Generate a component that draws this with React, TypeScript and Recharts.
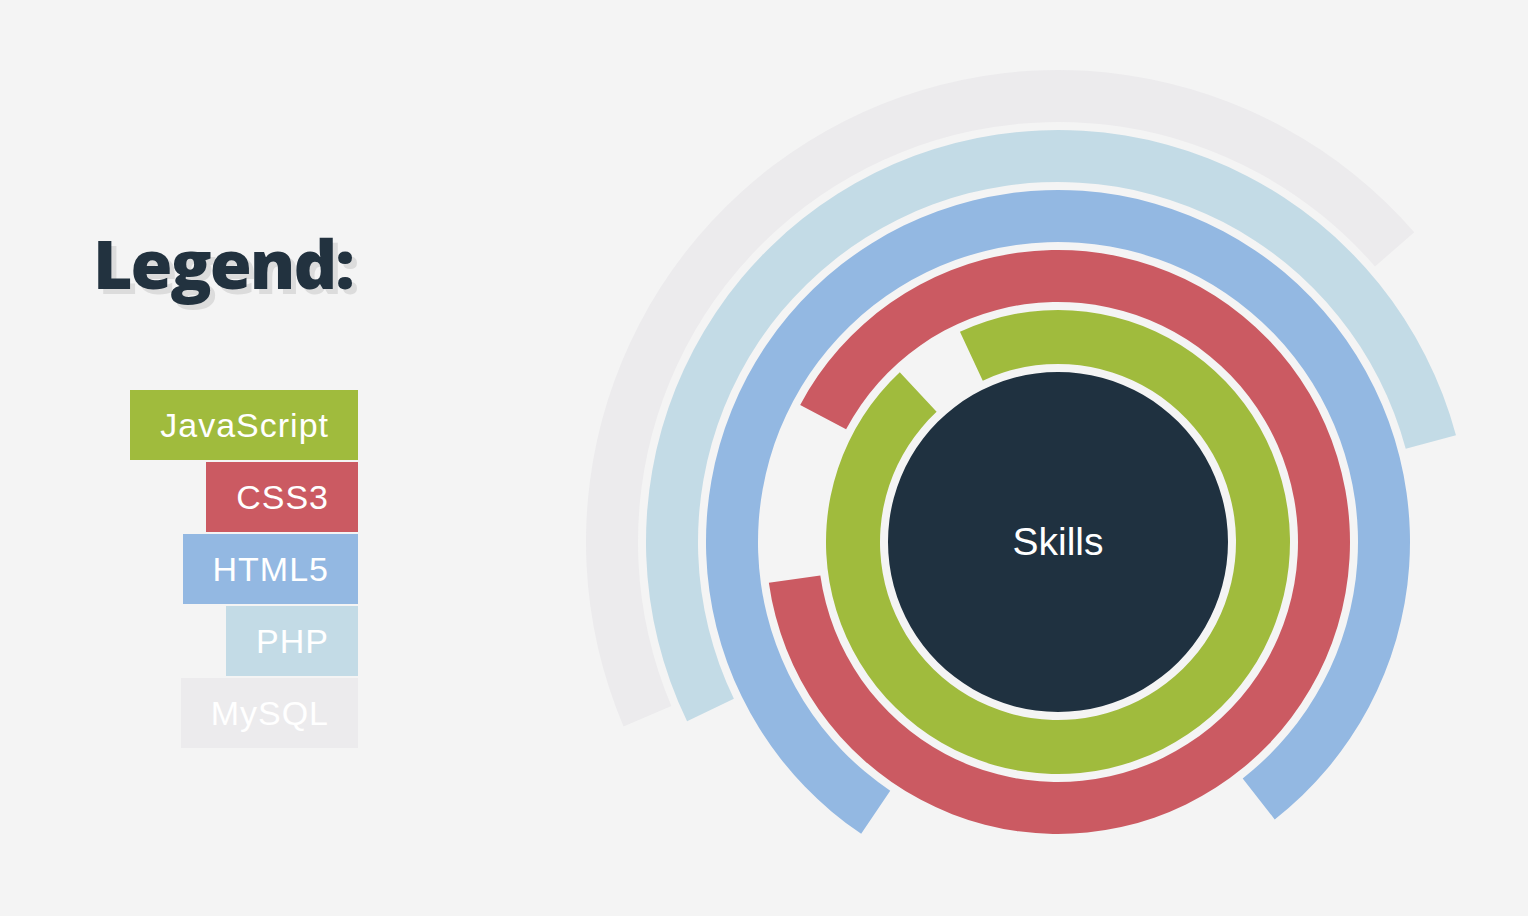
import { PieChart, Pie, Cell } from 'recharts'

const skills = ['JavaScript', 'CSS3', 'HTML5', 'PHP', 'MySQL']
const skillLevel = [95, 90, 80, 53, 45]
// angle (deg, counter-clockwise from 3 o'clock) where each arc begins
const arcStart = [133, 188, 308, 15, 41]
const skillColors = ['#a0bb3d', '#cb5a62', '#93b8e2', '#c3dbe6', '#ecebed']

const CX = 1058
const CY = 542

export default function App() {
  return (
    <div
      style={{
        position: 'absolute',
        left: 0,
        top: 0,
        width: 1528,
        height: 916,
        background: '#f4f4f4',
        overflow: 'hidden',
        fontFamily: '"Liberation Sans", Arial, sans-serif',
      }}
    >
      <PieChart
        width={1528}
        height={916}
        margin={{ top: 0, right: 0, bottom: 0, left: 0 }}
        style={{ position: 'absolute', left: 0, top: 0 }}
      >
        <Pie
          data={[{ name: 'center', value: 1 }]}
          dataKey="value"
          cx={CX}
          cy={CY}
          innerRadius={0}
          outerRadius={170}
          startAngle={0}
          endAngle={360}
          stroke="none"
          fill="#1f3140"
          isAnimationActive={false}
        />
        {skills.map((s, i) => (
          <Pie
            key={s}
            data={[
              { name: s, value: skillLevel[i] },
              { name: 'rest', value: 100 - skillLevel[i] },
            ]}
            dataKey="value"
            cx={CX}
            cy={CY}
            innerRadius={i === 0 ? 178 : 180 + i * 60}
            outerRadius={232 + i * 60}
            startAngle={arcStart[i]}
            endAngle={arcStart[i] + 360}
            paddingAngle={0}
            stroke="none"
            isAnimationActive={false}
          >
            <Cell fill={skillColors[i]} />
            <Cell fill="transparent" />
          </Pie>
        ))}
      </PieChart>

      <div
        style={{
          position: 'absolute',
          left: CX - 100,
          top: CY - 30,
          width: 200,
          height: 60,
          lineHeight: '60px',
          textAlign: 'center',
          color: '#fff',
          fontSize: 39,
        }}
      >
        Skills
      </div>

      <div
        style={{
          position: 'absolute',
          left: 93,
          top: 216,
          fontFamily: '"Open Sans", sans-serif',
          fontWeight: 800,
          fontSize: 68,
          color: '#22323f',
          textShadow: '5px 5px 0 #dcdcdc',
          letterSpacing: -2,
        }}
      >
        Legend:
      </div>

      <div
        style={{
          position: 'absolute',
          right: 1528 - 358,
          top: 390,
          display: 'flex',
          flexDirection: 'column',
          alignItems: 'flex-end',
          gap: 2,
        }}
      >
        {skills.map((s, i) => (
          <div
            key={s}
            style={{
              background: skillColors[i],
              color: '#fff',
              fontSize: 34,
              letterSpacing: 1,
              height: 70,
              lineHeight: '70px',
              padding: '0 29px 0 30px',
            }}
          >
            {s}
          </div>
        ))}
      </div>
    </div>
  )
}
